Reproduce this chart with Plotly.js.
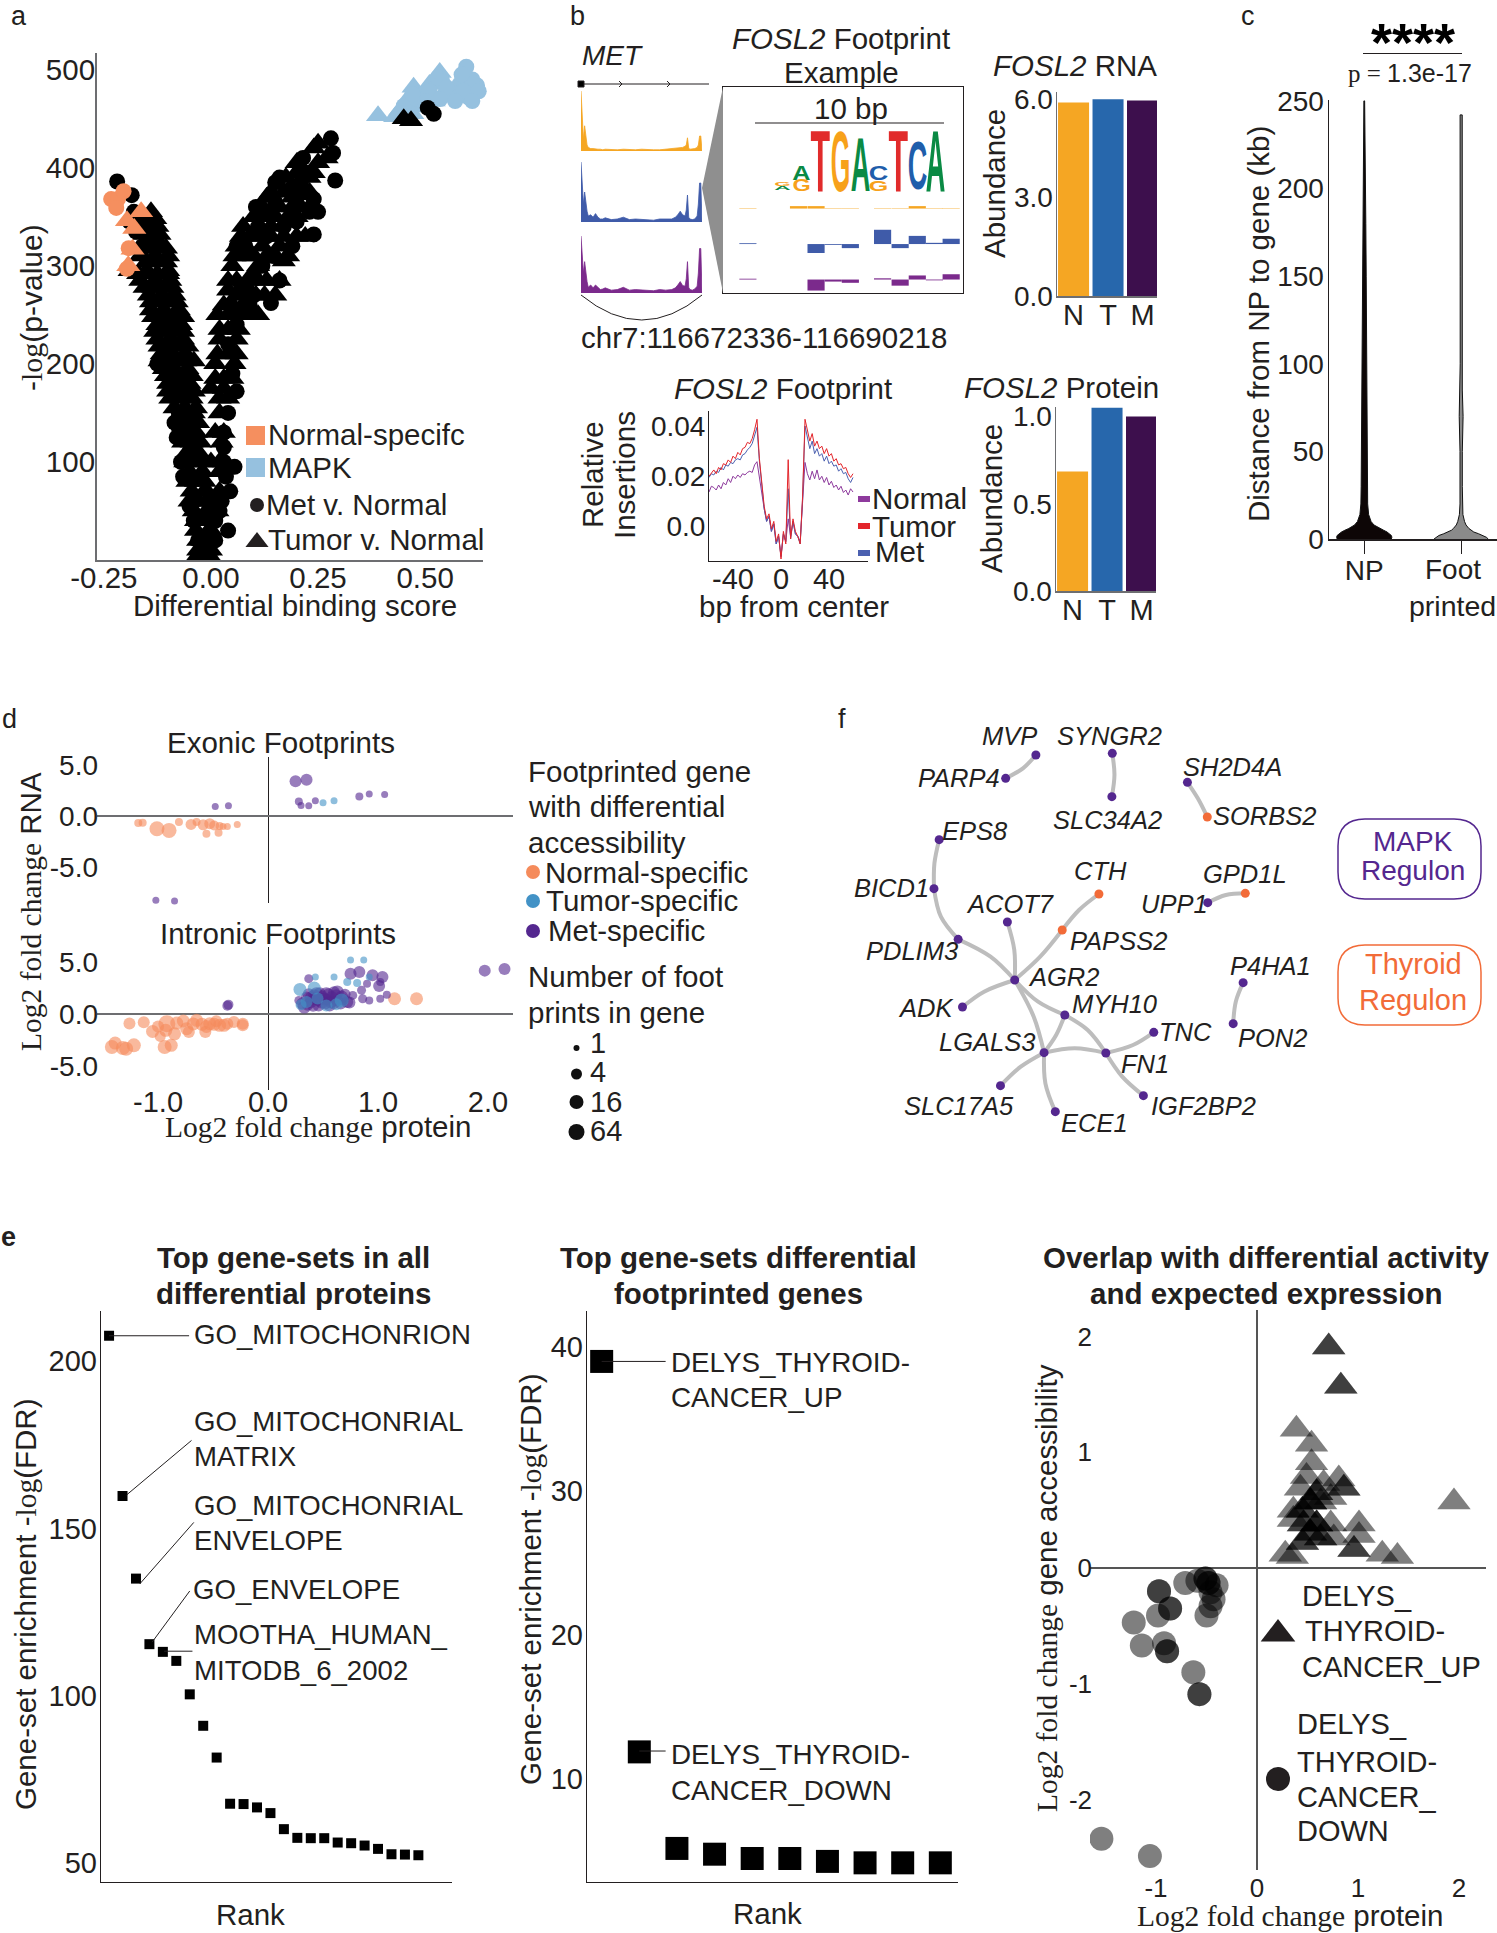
<!DOCTYPE html>
<html><head><meta charset="utf-8">
<script src="https://cdn.plot.ly/plotly-3.0.1.min.js"></script>
<style>html,body{margin:0;padding:0;background:#fff}</style></head>
<body><div id="chart" style="width:1497px;height:1933px"></div>
<script>
const W=1497,H=1933,INK='#231f20',SANS='Liberation Sans',SERIF='Liberation Serif';
// ---------- panel a
const tumorX=[-.03,-.01,-.035,-.005,-.04,-.01,-.045,-.015,-.05,-.02,-.055,-.03,-.055,-.035,-.07,-.04,-.095,-.07,-.045,-.1,-.075,-.05,-.11,-.085,-.055,-.115,-.09,-.06,-.125,-.095,-.065,-.125,-.1,-.07,-.14,-.11,-.075,-.145,-.115,-.085,-.165,-.13,-.095,-.19,-.15,-.1,-.165,-.13,-.1,-.15,-.125,-.145,-.125,-.14,
 -.03,-.02,-.005,-.03,-.02,-.005,-.035,-.025,-.005,-.05,-.03,-.01,-.055,-.035,-.015,-.06,-.04,-.02,-.065,-.045,-.025,-.07,-.05,-.03,-.085,-.06,-.035,-.1,-.08,-.06,-.04,-.105,-.085,-.065,-.045,-.12,-.1,-.08,-.06,-.04,-.12,-.1,-.08,-.055,-.13,-.11,-.085,-.065,-.135,-.115,-.09,-.065,-.14,-.12,-.1,-.08,-.155,-.135,-.11,-.09,-.17,-.145,-.125,-.1,-.15,-.125,-.105,-.16,-.14,-.12,-.105,-.155,-.135,-.12,-.165,-.15,-.13,
 0,0,.005,.02,.025,.02,.03,0,.01,.055,.02,.06,.015,.065,.04,.09,.05,.11,.17,.06,.12,.16,.075,.14,.13,.19,.175,.23,.2,.25,.24,.25,.27,
 .02,.04,.01,.03,.05,.015,.04,.06,.02,.04,.065,.03,.05,.075,.04,.06,.085,.11,.13,.16,.055,.08,.1,.13,.15,.18,.07,.09,.11,.14,.17,.2,.22,.1,.12,.15,.18,.2,.12,.16,.19,.21,.23,.14,.17,.21,.23,.2,.22,.24,.06,.08,.105,.125,.15,.04,.06,.085,.11,0,.02,.03,.01,.03,-.01,.02,0,.015];
const tumorY=[10,10,30,30,50,50,70,70,90,90,110,110,130,130,150,150,165,165,165,180,180,180,195,195,195,210,210,210,225,225,225,240,240,240,255,255,255,270,270,270,285,285,285,295,295,295,310,310,310,325,325,340,340,355,
 5,5,5,20,20,20,40,40,40,60,60,60,80,80,80,100,100,100,120,120,120,140,140,140,155,155,155,172,172,172,172,188,188,188,188,203,203,203,203,203,218,218,218,218,233,233,233,233,248,248,248,248,263,263,263,263,278,278,278,278,292,292,292,292,304,304,304,318,318,318,318,332,332,332,348,348,348,
 10,30,60,90,120,150,175,175,200,200,225,225,250,250,275,275,300,300,305,320,320,320,340,340,370,370,390,390,405,405,420,425,410,
 165,165,185,185,185,210,210,210,235,235,235,260,260,260,285,285,285,285,285,285,310,310,310,310,310,310,330,330,330,330,330,330,330,350,350,350,350,350,360,360,360,360,360,375,375,375,375,395,395,395,270,270,270,270,270,250,250,250,250,100,100,100,130,130,70,70,50,50];
const metX=[-.075,-.075,-.065,-.06,-.05,-.06,-.065,-.04,-.05,-.04,-.125,-.03,-.219,-.185,-.19,-.18,-.175,-.15,-.16,-.08,-.07,-.085,
 .035,.025,.01,.01,.03,.03,.04,.06,.05,.04,.06,.09,.07,.1,.14,.16,.12,.145,.19,.24,.2,.23,.25,.24,.2,.15,.13,.105,.11,.15,.16,.185,.215,.28,.285,.29,.23,.21,.06,.08,.045,.055,.03,.02,.04,.07,.1,.13,.17,.22];
const metY=[150,135,125,140,110,85,85,60,55,40,200,20,386,372,345,355,335,345,320,125,100,140,
 85,60,40,20,100,130,150,172,190,220,240,260,280,270,262,285,300,310,320,332,345,355,355,368,370,365,355,360,340,385,390,378,410,430,415,387,395,385,320,320,70,95,115,50,30,255,290,330,340,375];
const metFarX=[.506,.52,.58],metFarY=[461,455,490],tumorFarX=[.45,.467],tumorFarY=[450,448];
const normalCircX=[-.233,-.217,-.221,-.204,-.192,-.196],normalCircY=[368,368,359,376,318,297];
const normalTriX=[-.179,-.183,-.193,-.163,-.196],normalTriY=[338,317,300,355,346];
const mapkTriX=[.39,.473,.442,.534,.46,.5,.52,.55,.57,.49,.43,.48,.51,.53,.47],mapkTriY=[453,482,459,497,470,475,468,480,472,462,452,462,485,490,455];
const mapkCircX=[.596,.621,.6,.53,.45,.58,.56,.54,.51,.48,.61,.59,.57,.55,.625,.61,.5,.47,.585,.535],mapkCircY=[503,484,472,492,463,485,478,488,478,470,490,478,468,482,478,468,468,475,495,470];
// ---------- panel b
const abundLabels=['N','T','M'],rnaValues=[5.9,6.0,5.96],proteinValues=[.685,1.05,1.0];
const fpX=[-60,-58,-56,-54,-52,-50,-48,-46,-44,-42,-40,-38,-36,-34,-32,-30,-28,-26,-24,-22,-20,-18,-16,-14,-12,-10,-8,-6,-4,-2,0,2,4,6,8,10,12,14,16,18,20,22,24,26,28,30,32,34,36,38,40,42,44,46,48,50,52,54,56,58,60];
const fpTumor=[.02,.0215,.0225,.021,.0235,.0225,.025,.0245,.0265,.0255,.028,.027,.0295,.0285,.031,.0315,.0335,.033,.035,.0385,.0427,.027,.016,.008,.003,.005,-.001,.002,-.006,-.003,-.013,-.002,-.007,.0266,-.005,.003,-.002,-.004,-.007,.012,.0427,.038,.034,.037,.032,.034,.031,.032,.029,.031,.028,.029,.026,.027,.0245,.025,.023,.0235,.021,.0195,.021];
const fpMet=[.0195,.021,.0205,.022,.0215,.0235,.0225,.0245,.024,.0255,.025,.0265,.027,.0265,.0285,.029,.0305,.0315,.033,.036,.0395,.026,.015,.007,.002,.004,-.002,.001,-.007,-.004,-.012,-.003,-.006,.015,-.005,.002,-.003,-.004,-.007,.011,.04,.035,.031,.034,.029,.031,.028,.029,.026,.028,.025,.026,.024,.0245,.022,.023,.021,.0215,.019,.0175,.0195];
const fpNormal=[.0137,.016,.0155,.0145,.0165,.015,.0175,.0165,.019,.0175,.02,.019,.0205,.0195,.021,.0205,.0215,.022,.0215,.0245,.0258,.019,.013,.007,.002,.004,-.002,.001,-.007,-.004,-.012,-.003,-.006,.003,-.004,.002,-.003,-.004,-.006,.009,.0255,.021,.0185,.022,.019,.0225,.0185,.02,.0175,.0195,.0165,.018,.0155,.0165,.0145,.016,.0135,.0145,.0125,.015,.0137];
const trackX=[0,1,2,3,4,5,6,8,10,12,14,16,18,20,25,30,35,40,45,50,55,60,65,70,75,78,80,82,84,86,87,88,89,90,92,94,96,97,98,99,100];
const trackN=[1,.45,.2,.42,.2,.1,.06,.04,.04,.03,.03,.03,.02,.03,.02,.02,.03,.02,.02,.03,.02,.02,.02,.03,.03,.04,.04,.05,.06,.08,.1,.22,.05,.03,.03,.04,.06,.1,.25,.25,0];
const trackT=[1,.55,.3,.5,.28,.18,.1,.12,.08,.14,.08,.05,.05,.07,.04,.05,.08,.04,.05,.04,.04,.03,.05,.05,.05,.08,.12,.18,.12,.1,.2,.45,.08,.05,.04,.05,.1,.3,.65,.65,0];
const trackM=[1,.6,.35,.55,.3,.2,.1,.14,.09,.14,.1,.06,.07,.09,.05,.06,.1,.05,.06,.05,.05,.04,.06,.05,.06,.09,.14,.2,.13,.12,.25,.55,.1,.06,.05,.07,.12,.35,.78,.78,0];
const zoomBins=[461,585,628,670,712,791,834,876,918,959];
const zoomN=[1,6,6,1,1,1,1,6,1,1];
const zoomT=[2,0,-22,-2,-10,35,-10,20,3,13],zoomM=[2,0,-27,-5,-8,3,-15,10,-2,13];
const logoLetters=['T','G','A','C','G','T','C','A','A','G','G','A'];
const logoZx=[638,688,735,780,780,827,875,920,592,592,545,545];
const logoTop=[316,316,335,403,442,316,340,316,403,440,445,456];
const logoBottom=[468,468,468,440,468,468,462,468,440,468,455,466];
const logoWidth=[45,45,45,45,45,45,45,45,42,42,38,38];
const logoColor=['#E12B2B','#F7A11A','#0A8A44','#1F5EAB','#F7A11A','#E12B2B','#1F5EAB','#0A8A44','#0A8A44','#F7A11A','#F7A11A','#0A8A44'];
// ---------- panel c
const npY=[0,1,2,3,4,5,6,8,10,14,20,30,50,70,85,100,150,180,200,225,242,250];
const npW=[.28,.285,.28,.26,.235,.2,.16,.1,.07,.045,.035,.032,.03,.028,.026,.025,.02,.016,.012,.008,.006,.004];
const fpY=[0,1,2,3,4,5,6,8,10,14,20,30,50,70,85,100,150,180,200,225,242];
const fpW=[.28,.26,.23,.18,.13,.1,.08,.05,.035,.018,.012,.012,.012,.02,.012,.01,.01,.012,.011,.011,.011];
// ---------- panel d
const exoNX=[-1.18,-1.14,-1.01,-.9,-.81,-.7,-.65,-.59,-.56,-.53,-.49,-.45,-.44,-.41,-.37,-.28];
const exoNY=[-.68,-.65,-1.23,-1.39,-.58,-.81,-.58,-.84,-1.72,-.74,-.91,-1.62,-.97,-1,-1,-.81];
const exoNS=[8,8,15,15,8,11,8,11,8,11,10,8,8,7,7,7];
const exoMX=[.25,.35,.28,.3,.37,.43,.83,.92,1.06,-.48,-.36,-1.02,-.85];
const exoMY=[3.4,3.53,1.42,1.04,1,1.49,1.91,2.14,2.1,.94,1,-8.19,-8.25];
const exoMS=[12,12,8,7,7,7,8,7,7,7,7,7,7];
const exoTX=[.5,.6],exoTY=[1.29,1.49],exoTS=[7,7];
const intNX=[-1.26,-1.13,-1.05,-.98,-.92,-.93,-1.42,-1.39,-1.32,-1.29,-1.22,-.94,-.88,-.83,-.77,-.74,-.72,-.65,-.6,-.57,-.53,-.49,-.44,-.4,-.37,-.31,-.23,-.23,1.15,1.35,.4,-.68,-.56,-.47,-1,-.85];
const intNY=[-.9,-.8,-1.67,-2.15,-.93,-1.57,-3.17,-2.79,-3.27,-3.33,-3.01,-3.17,-3.01,-.87,-.67,-1.41,-1.73,-.61,-.99,-1.73,-.93,-.99,-1.09,-1.09,-.93,-.77,-.93,-1.09,1.47,1.47,1.31,-.95,-1.2,-.7,-1.2,-1.9];
const intNS=[12,12,13,11,17,13,14,13,14,14,14,14,13,13,13,13,12,13,13,12,13,13,13,13,12,12,12,12,13,13,10,13,13,12,12,13];
const intTX=[.75,.87,.43,.6,.72,.81,.29,.42,.35,.53,.67,.92,.3,.45,.62];
const intTY=[5.19,5.19,3.56,3.56,3.08,2.99,2.36,2.49,1.15,.83,1.31,3.56,.9,1.5,.95];
const intTS=[7,7,7,7,8,8,13,13,12,12,14,7,11,12,12];
const intMX=[-.37,-.36,1.97,2.15,.37,.75,.83,.95,1.04,1.02,1.01,.9,.85,1.08,1.02,.92,.86,.28,.33,.39,.44,.49,.53,.58,.63,.67,.72,.46,.56,.35,.77,.6,.51,.44,.53,.58,.39,.49,.63,.31,.37,.42,.47,.52,.57,.62,.68,.74,.36,.41,.46,.55,.6,.66,.7];
const intMY=[.8,.9,4.17,4.33,3.4,3.88,4.04,3.72,3.56,3.08,2.69,2.92,2.28,1.86,1.47,1.31,1.47,1.31,.67,1.15,1.96,1.15,1.96,1.63,2.12,1.63,1.15,.83,.83,1.63,1.79,.99,1.47,1.5,1.4,1.2,1.6,1.7,1.3,1,1.9,1.8,2,1,1.1,1.8,1.4,1.1,.9,.8,1.3,1.9,2.1,1,1.9];
const intMS=[10,10,12,12,9,12,12,12,12,8,12,8,9,8,8,8,9,9,13,12,13,13,13,12,13,13,12,12,12,11,9,11,12,12,12,12,12,12,12,12,12,12,12,12,12,12,12,12,12,12,12,12,12,12,11];
// ---------- panel f (network layout units)
const nodeNames=['MVP','PARP4','SYNGR2','SLC34A2','SH2D4A','SORBS2','EPS8','BICD1','PDLIM3','ACOT7','CTH','PAPSS2','UPP1','GPD1L','AGR2','ADK','MYH10','LGALS3','FN1','TNC','P4HA1','PON2','SLC17A5','ECE1','IGF2BP2'];
const nodeX=[500,430,677,676,851,897,276,264,320,434,646,561,898,985,451,330,567,519,662,773,980,957,418,545,749];
const nodeY=[165,235,160,290,247,351,419,566,718,666,582,690,608,580,840,921,945,1058,1059,997,848,971,1157,1235,1187];
const nodeThyroid=['SORBS2','CTH','PAPSS2','GPD1L'];
const labelX=[440,322,670,665,955,1030,360,165,212,440,650,692,820,985,565,245,682,387,753,847,1043,1048,322,635,888];
const labelY=[107,233,107,360,200,349,393,563,752,613,513,722,613,522,830,923,913,1027,1092,995,797,1015,1217,1268,1217];
const edgeFrom=['MVP','SYNGR2','SH2D4A','EPS8','BICD1','PDLIM3','ACOT7','CTH','PAPSS2','UPP1','AGR2','AGR2','AGR2','MYH10','MYH10','LGALS3','FN1','FN1','LGALS3','LGALS3','P4HA1'];
const edgeTo=['PARP4','SLC34A2','SORBS2','BICD1','PDLIM3','AGR2','AGR2','PAPSS2','AGR2','GPD1L','ADK','MYH10','LGALS3','LGALS3','FN1','FN1','TNC','IGF2BP2','SLC17A5','ECE1','PON2'];
const edgeMidX=[470,682,875,265,280,395,450,600,510,940,380,505,495,547,620,590,725,700,465,522,963];
const edgeMidY=[205,225,295,490,650,770,750,630,770,585,875,905,950,1005,990,1045,1035,1130,1100,1150,905];
// ---------- panel e
const e1Rank=[1,2,3,4,5,6,7,8,9,10,11,12,13,14,15,16,17,18,19,20,21,22,23,24];
const e1Value=[207.6,159.7,135,115.4,113.1,110.4,100.4,91,81.5,67.7,67.6,66.6,64.9,60.1,57.5,57.4,57.4,56.1,55.9,55.2,54.2,52.6,52.5,52.3];
const e2Rank=[1,2,3,4,5,6,7,8,9,10];
const e2Value=[39,11.9,5.2,4.8,4.5,4.5,4.3,4.2,4.2,4.2];
const upX=[.71,.71,.83,.83,.39,.54,.54,.81,.49,.43,.66,.86,.86,.59,.59,.53,.53,.53,.36,.45,.45,.63,.73,.36,.46,.46,.59,.59,.59,.73,.53,.53,1.01,1.01,.96,.96,.28,.35,.45,.45,.63,.63,.76,1.24,1.39,1.95];
const upY=[1.91,1.91,1.57,1.57,1.2,1.07,.91,.77,.79,.69,.73,.69,.69,.65,.65,.57,.57,.57,.5,.5,.5,.57,.61,.42,.38,.38,.38,.38,.38,.38,.3,.3,.38,.28,.16,.16,.12,.1,.22,.22,.26,.26,.26,.12,.1,.57];
const downX=[-.51,-.51,-.48,-.48,-.4,-.71,-.59,-.97,-.97,-.86,-.86,-.98,-1.22,-1.14,-.92,-.89,-.89,-.43,-.46,-.5,-.63,-.57,-.57,-1.54,-1.06,-.46];
const downY=[-.09,-.09,-.13,-.13,-.15,-.13,-.11,-.2,-.2,-.35,-.35,-.41,-.47,-.67,-.65,-.72,-.72,-.27,-.33,-.41,-.9,-1.09,-1.09,-2.34,-2.49,-.21];
const abundColors=['#F5A623','#2767AC','#3D0F4D'];
const cOrange='#F58B5B',cBlue='#4292C6',cPurple='#54278F',cMapk='#96C1DF',cNormal='#F58F5F';

const layout={width:W,height:H,margin:{l:0,r:0,t:0,b:0},paper_bgcolor:'#fff',plot_bgcolor:'rgba(0,0,0,0)',showlegend:false,barmode:'overlay',font:{family:SANS,color:INK,size:28},annotations:[],shapes:[]};
const traces=[];
function setAxes(n,x0,x1,y0,y1,xo,yo){
  const sx=n===1?'':n,xName='xaxis'+sx,yName='yaxis'+sx;
  layout[xName]=Object.assign({domain:[x0/W,x1/W],anchor:'y'+sx,showgrid:false,zeroline:false,showline:false,ticks:'',automargin:false,layer:'below traces',tickfont:{size:28,family:SANS,color:INK}},xo);
  layout[yName]=Object.assign({domain:[1-y1/H,1-y0/H],anchor:'x'+sx,showgrid:false,zeroline:false,showline:false,ticks:'',automargin:false,layer:'below traces',tickfont:{size:28,family:SANS,color:INK}},yo);
  return {xaxis:'x'+sx,yaxis:'y'+sx};
}
function T(px,py,text,size,o){o=o||{};
  layout.annotations.push(Object.assign({xref:'paper',yref:'paper',x:px/W,y:1-py/H,text:text,showarrow:false,xanchor:'center',yanchor:'middle',borderpad:0,borderwidth:0,font:{family:o.family||SANS,size:size,color:o.color||INK}},o.extra||{}));
}
const L=(px,py,text,size,o)=>T(px,py,text,size,Object.assign({},o,{extra:Object.assign({xanchor:'left'},(o||{}).extra)}));
const V=(px,py,text,size)=>T(px,py,text,size,{extra:{textangle:-90}});
const serif=s=>'<span style="font-family:Liberation Serif">'+s+'</span>';

// overlay in page pixels for legend keys and drawn furniture
const ov=setAxes(12,0,W,0,H,{range:[0,W],visible:false},{range:[H,0],visible:false});
function sh(path,o){layout.shapes.push(Object.assign({type:'path',xref:'x12',yref:'y12',path:path,line:{color:INK,width:1},layer:'above'},o));}
function seg(x0,y0,x1,y1,c,w){sh(`M${x0},${y0}L${x1},${y1}`,{line:{color:c||INK,width:w||1}});}
function key(x,y,sym,c,size){traces.push(Object.assign({type:'scatter',mode:'markers',x:[x],y:[y],marker:{symbol:sym,color:c,size:size,line:{width:0}},hoverinfo:'skip'},ov));}

// ---------- a
const A=setAxes(1,97,483,53,560,
 {range:[-.266,.635],tickmode:'array',tickvals:[-.25,0,.25,.5],ticktext:['-0.25','0.00','0.25','0.50'],showline:true,linecolor:'#6d6e71',linewidth:2,ticklabelstandoff:-9,tickfont:{size:29.5,family:SANS,color:INK}},
 {range:[0,517],tickmode:'array',tickvals:[100,200,300,400,500],showline:true,linecolor:'#6d6e71',linewidth:2,ticklabelstandoff:-6,tickfont:{size:29.5,family:SANS,color:INK}});
function pts(ax,x,y,sym,c,size,op,clip){traces.push(Object.assign({type:'scatter',mode:'markers',x:x,y:y,cliponaxis:clip!==false,marker:{symbol:sym,color:c,size:size,opacity:op==null?1:op,line:{width:0}},hoverinfo:'skip'},ax));}
pts(A,tumorX,tumorY,'triangle-up','#000',21);
pts(A,metX,metY,'circle','#000',16);
pts(A,normalTriX,normalTriY,'triangle-up',cNormal,21);
pts(A,normalCircX,normalCircY,'circle',cNormal,16);
pts(A,mapkTriX,mapkTriY,'triangle-up',cMapk,21,1,false);
pts(A,mapkCircX,mapkCircY,'circle',cMapk,16,1,false);
pts(A,tumorFarX,tumorFarY,'triangle-up','#000',21);
pts(A,metFarX.slice(0,2),metFarY.slice(0,2),'circle','#000',16);
T(19,16,'a',27);
V(31,308,'-'+serif('log')+'(p-value)',30);
T(295,605,'Differential binding score',29.5);
key(255.5,435.5,'square',cNormal,19);key(255.5,467.5,'square',cMapk,19);key(257,505,'circle',INK,14);key(257,542,'triangle-up',INK,20);
L(268,435,'Normal-specifc',29.5);L(268,467,'MAPK',29.5);L(266,505,'Met v. Normal',29.5);L(268,539,'Tumor v. Normal',29.5);

// ---------- b tracks
[[13,91,151,trackN,abundColors[0]],[14,162,222,trackT,'#3F5BA9'],[15,236,293,trackM,'#7B2A8C']].forEach(r=>{
  const a=setAxes(r[0],581,702,r[1],r[2],{range:[0,100],visible:false},{range:[0,1],visible:false});
  traces.push(Object.assign({type:'scatter',mode:'lines',x:trackX,y:r[3],fill:'tozeroy',fillcolor:r[4],line:{color:r[4],width:.8},hoverinfo:'skip'},a));
});
seg(579,84,709,84,INK,1);sh('M578,81H584V87H578Z',{fillcolor:'#000'});
sh('M619,81L622,84L619,87',{});sh('M667,81L670,84L667,87',{});
sh('M581,295Q642,345 702,295',{line:{color:INK,width:1}});
sh('M702,188L723,87L723,293Z',{fillcolor:'#8f8f8f',line:{width:0,color:'#8f8f8f'}});
T(612,55,'<i>MET</i>',28);
T(841,38,'<i>FOSL2</i> Footprint',29.5);T(841,73,'Example',29.5);
T(764,338,'chr7:116672336-116690218',29.5);
// zoom box
const B=setAxes(16,723,963,87,293,{range:[400,988],showticklabels:false,showline:true,mirror:true,linecolor:INK,linewidth:1.3},{range:[718,213],showticklabels:false,showline:true,mirror:true,linecolor:INK,linewidth:1.3});
[[511,zoomN,abundColors[0]],[598,zoomT,'#3F5BA9'],[685,zoomM,'#7B2A8C']].forEach(r=>{
  traces.push(Object.assign({type:'bar',x:zoomBins,y:r[1].map(v=>-v),base:r[0],width:42,marker:{color:r[2],line:{width:0}},hoverinfo:'skip'},B));
});
T(851,109,'10 bp',29.5);seg(755,123,944,123,INK,1.2);
const logoMeta=[];
logoLetters.forEach((c,i)=>{
  const xc=560+logoZx[i]/2.45,top=logoTop[i]/2.45,bot=logoBottom[i]/2.45;
  logoMeta.push({idx:layout.annotations.length,w:logoWidth[i]/2.45,h:bot-top});
  T(xc,(top+bot)/2,'<b>'+c+'</b>',40,{color:logoColor[i]});
});
// RNA / protein bars
function barPanel(n,x0,x1,y0,y1,xr,yr,vals,tv,tl){
  const a=setAxes(n,x0,x1,y0,y1,{range:xr,tickmode:'array',tickvals:[0,1,2],ticktext:abundLabels,showline:true,linecolor:'#6d6e71',linewidth:1.5,ticklabelstandoff:-7,tickfont:{size:29,family:SANS,color:INK}},{range:yr,tickmode:'array',tickvals:tv,ticktext:tl,showline:true,linecolor:'#6d6e71',linewidth:1.5,ticklabelstandoff:-3,tickfont:{size:28,family:SANS,color:INK}});
  traces.push(Object.assign({type:'bar',x:[0,1,2],y:vals,width:.9,marker:{color:abundColors,line:{width:0}},hoverinfo:'skip'},a));
}
barPanel(2,1057,1157,92,296,[-.48,2.42],[0,6.22],rnaValues,[0,3,6],['0.0','3.0','6.0']);
barPanel(4,1056,1156,407,591,[-.48,2.42],[0,1.055],proteinValues,[0,.5,1],['0.0','0.5','1.0']);
T(1075,66,'<i>FOSL2</i> RNA',29.5);V(994,184,'Abundance',29.5);
T(1061,387,'<i>FOSL2</i> Protein',29.5);V(992,498,'Abundance',29.5);
// footprint
const F=setAxes(3,709,868,411,561,
 {range:[-60,72.5],tickmode:'array',tickvals:[-40,0,40],ticktext:['-40','0','40'],showline:true,linecolor:INK,linewidth:1,ticklabelstandoff:-8,tickfont:{size:29,family:SANS,color:INK}},
 {range:[-.0138,.046],tickmode:'array',tickvals:[0,.02,.04],ticktext:['0.0','0.02','0.04'],showline:true,linecolor:INK,linewidth:1,ticklabelstandoff:-3,tickfont:{size:28,family:SANS,color:INK}});
[[fpNormal,'#8E3A9D'],[fpMet,'#4B60B0'],[fpTumor,'#E3252B']].forEach(r=>traces.push(Object.assign({type:'scatter',mode:'lines',x:fpX,y:r[0],line:{color:r[1],width:1},hoverinfo:'skip'},F)));
T(783,389,'<i>FOSL2</i> Footprint',29.5);T(794,606,'bp from center',29.5);
V(593,475,'Relative',29.5);V(625,475,'Insertions',29.5);
seg(858,499,870,499,'#8E3A9D',6);seg(858,526,870,526,'#E3252B',6);seg(858,553,870,553,'#4B60B0',6);
L(872,499,'Normal',29.5);L(872,526,'Tumor',29.5);L(875,551,'Met',29.5);
T(577,16,'b',27);

// ---------- c
const C=setAxes(5,1329,1497,100,539,
 {range:[-.364,1.37],tickmode:'array',tickvals:[0,1],ticktext:['NP',' '],showline:true,linecolor:INK,linewidth:1.5,ticks:'outside',ticklen:13,tickcolor:INK,tickwidth:1.2,ticklabelstandoff:-7,tickfont:{size:28,family:SANS,color:INK}},
 {range:[0,250.5],tickmode:'array',tickvals:[0,50,100,150,200,250],showline:true,linecolor:INK,linewidth:1.5,ticklabelstandoff:-2,tickfont:{size:28,family:SANS,color:INK}});
[[0,npY,npW,'#0d0606'],[1,fpY,fpW,'#8a8a8a']].forEach(r=>{
  const xs=r[1].map((_,i)=>r[0]-r[2][i]).concat(r[1].map((_,i)=>r[0]+r[2][i]).reverse());
  const ys=r[1].concat(r[1].slice().reverse());
  traces.push(Object.assign({type:'scatter',mode:'lines',x:xs,y:ys,fill:'toself',fillcolor:r[3],line:{color:'#111',width:1},hoverinfo:'skip'},C));
});
T(1248,16,'c',27);T(1413,42,'<b>****</b>',54,{color:'#000'});seg(1363,53.5,1462,53.5,INK,1.2);
T(1410,73,serif('p = ')+'1.3e-17',25);V(1258,324,'Distance from NP to gene (kb)',29.5);
T(1453,569,'Foot',28);T(1452,606,'printed',28.5);

// ---------- d
const xD=(o)=>Object.assign({range:[-1.555,2.227],tickmode:'array',tickvals:[-1,0,1,2],ticktext:['-1.0','0.0','1.0','2.0'],zeroline:true,zerolinecolor:INK,zerolinewidth:1,ticklabelstandoff:-8,tickfont:{size:29,family:SANS,color:INK}},o);
const yD=(r)=>({range:r,tickmode:'array',tickvals:[-5,0,5],ticktext:['-5.0','0.0','5.0'],zeroline:true,zerolinecolor:'#6d6e71',zerolinewidth:2,ticklabelstandoff:-2,tickfont:{size:28,family:SANS,color:INK}});
const D1=setAxes(6,97,513,757,903,xD({showticklabels:false}),yD([-8.45,5.75]));
const D2=setAxes(7,97,513,947,1090,xD({}),yD([-7.3,6.44]));
function bub(ax,x,y,s,c){traces.push(Object.assign({type:'scatter',mode:'markers',cliponaxis:false,x:x,y:y,marker:{color:c,size:s,opacity:.6,line:{width:0}},hoverinfo:'skip'},ax));}
bub(D1,exoNX,exoNY,exoNS,cOrange);bub(D1,exoTX,exoTY,exoTS,cBlue);bub(D1,exoMX,exoMY,exoMS,cPurple);
bub(D2,intNX,intNY,intNS,cOrange);bub(D2,intMX,intMY,intMS,cPurple);bub(D2,intTX,intTY,intTS,cBlue);
T(9,719,'d',27);T(281,743,'Exonic Footprints',29.5);T(278,933,'Intronic Footprints',29.5);
V(30,912,serif('Log2 fold change')+' RNA',29.5);T(318,1126,serif('Log2 fold change')+' protein',29.5);
L(528,771,'Footprinted gene',29.5);L(528,806,'with differential',29.5);L(528,842,'accessibility',29.5);
key(533,872,'circle',cOrange,14);key(533,901,'circle',cBlue,14);key(533,931,'circle',cPurple,14);
L(545,872,'Normal-specific',29.5);L(546,901,'Tumor-specific',29.5);L(548,931,'Met-specific',29.5);
L(528,976,'Number of foot',29.5);L(528,1012,'prints in gene',29.5);
key(576.5,1048,'circle','#111',6);key(576.5,1074,'circle','#111',11);key(576.5,1102,'circle','#111',14);key(576.5,1132,'circle','#111',16);
L(590,1043,'1',29);L(590,1072,'4',29);L(590,1102,'16',29);L(590,1131,'64',29);

// ---------- f
const N=setAxes(8,820,1497,700,1160,{range:[0,1568],visible:false},{range:[1380,0],visible:false});
edgeFrom.forEach((a,i)=>{const p=nodeNames.indexOf(a),q=nodeNames.indexOf(edgeTo[i]);
  traces.push(Object.assign({type:'scatter',mode:'lines',x:[nodeX[p],edgeMidX[i],nodeX[q]],y:[nodeY[p],edgeMidY[i],nodeY[q]],line:{color:'#bdbdbd',width:4,shape:'spline',smoothing:1},hoverinfo:'skip'},N));});
traces.push(Object.assign({type:'scatter',mode:'markers',x:nodeX,y:nodeY,marker:{size:9,line:{width:0},color:nodeNames.map(n=>nodeThyroid.includes(n)?'#F26B38':cPurple)},hoverinfo:'skip'},N));
nodeNames.forEach((n,i)=>T(820+labelX[i]/2.316,700+labelY[i]/3,'<i>'+n+'</i>',25.5));
T(842,719,'f',27);
function round(x0,y0,x1,y1,r){return `M${x0+r},${y0}H${x1-r}Q${x1},${y0} ${x1},${y0+r}V${y1-r}Q${x1},${y1} ${x1-r},${y1}H${x0+r}Q${x0},${y1} ${x0},${y1-r}V${y0+r}Q${x0},${y0} ${x0+r},${y0}Z`;}
sh(round(1338,819,1481,899,27),{line:{color:cPurple,width:1.5}});
sh(round(1338,945,1481,1025,27),{line:{color:'#F26B38',width:1.5}});
T(1413,841,'MAPK',28,{color:cPurple});T(1413,871,'Regulon',28,{color:cPurple});
T(1413,964,'Thyroid',29,{color:'#F26B38'});T(1413,1000,'Regulon',29,{color:'#F26B38'});

// ---------- e
const axE={showline:true,linecolor:INK,linewidth:1.2,ticklabelstandoff:-3,tickfont:{size:29,family:SANS,color:INK}};
const E1=setAxes(9,101,452,1311,1882,Object.assign({range:[.4,26.5],showticklabels:false},axE),Object.assign({range:[44.3,215],tickmode:'array',tickvals:[50,100,150,200]},axE));
pts(E1,e1Rank,e1Value,'square','#000',10);
T(8,1237,'<b>e</b>',27);T(293,1257,'<b>Top gene-sets in all</b>',29.5);T(293,1293,'<b>differential proteins</b>',29.5);
V(25,1605,'Gene-set enrichment -'+serif('log')+'(FDR)',29.5);T(250,1914,'Rank',29.5);
[[1,207.6,6.95,207.6],[2.3,160,7.13,176.3],[3.28,133.4,7.3,151.8],[4.2,116,7,131.3],[5.1,113.3,7.2,113.3]].forEach(r=>{
  layout.shapes.push({type:'line',xref:'x9',yref:'y9',x0:r[0],y0:r[1],x1:r[2],y1:r[3],line:{color:INK,width:1},layer:'above'});
});
[[194,1334,'GO_MITOCHONRION'],[194,1421,'GO_MITOCHONRIAL'],[194,1456,'MATRIX'],[194,1505,'GO_MITOCHONRIAL'],[194,1540,'ENVELOPE'],[193,1589,'GO_ENVELOPE'],[194,1634,'MOOTHA_HUMAN_'],[194,1670,'MITODB_6_2002']].forEach(r=>L(r[0],r[1],r[2],27.6));

const E2=setAxes(10,587,958,1311,1882,Object.assign({range:[.61,10.47],showticklabels:false},axE),Object.assign({range:[2.87,42.5],tickmode:'array',tickvals:[10,20,30,40]},axE));
pts(E2,e2Rank,e2Value,'square','#000',23);
T(738,1257,'<b>Top gene-sets differential</b>',29.5);T(738,1293,'<b>footprinted genes</b>',29.5);
V(530,1580,'Gene-set enrichment -'+serif('log')+'(FDR)',29.5);T(767,1913,'Rank',29.5);
[[1,39,2.7,39],[2,11.96,2.7,11.96]].forEach(r=>{layout.shapes.push({type:'line',xref:'x10',yref:'y10',x0:r[0],y0:r[1],x1:r[2],y1:r[3],line:{color:INK,width:1},layer:'above'});});
[[1362,'DELYS_THYROID-'],[1397,'CANCER_UP'],[1754,'DELYS_THYROID-'],[1790,'CANCER_DOWN']].forEach(r=>L(671,r[0],r[1],27.8));

const E3=setAxes(11,1090,1486,1310,1870,
 {range:[-1.653,2.267],tickmode:'array',tickvals:[-1,0,1,2],ticktext:['-1','0','1','2'],zeroline:true,zerolinecolor:'#555',zerolinewidth:1.5,tickfont:{size:26,family:SANS,color:INK}},
 {range:[-2.61,2.23],tickmode:'array',tickvals:[-2,-1,0,1,2],ticktext:['-2','-1','0','1','2'],zeroline:true,zerolinecolor:'#555',zerolinewidth:1.5,ticklabelstandoff:-3,tickfont:{size:26,family:SANS,color:INK}});
pts(E3,upX,upY,'triangle-up','#000',29,.5);
pts(E3,downX,downY,'circle','#000',24,.5);
T(1266,1257,'<b>Overlap with differential activity</b>',29.5);T(1266,1293,'<b>and expected expression</b>',29.5);
V(1046,1588,serif('Log2 fold change')+' gene accessibility',29.5);T(1290,1915,serif('Log2 fold change')+' protein',29.5);
key(1278,1634,'triangle-up',INK,30);key(1278,1779,'circle',INK,24);
L(1302,1596,'DELYS_',29);L(1305,1631,'THYROID-',29);L(1302,1667,'CANCER_UP',29);
L(1297,1724,'DELYS_',29);L(1297,1762,'THYROID-',29);L(1297,1797,'CANCER_',29);L(1297,1831,'DOWN',29);

Plotly.newPlot('chart',traces,layout,{staticPlot:true,displayModeBar:false}).then(gd=>{
  // stretch the sequence-logo letters to the heights of the motif
  logoMeta.forEach(m=>{
    const t=gd.querySelector('g.annotation[data-index="'+m.idx+'"] text');
    if(!t) return;
    const b=t.getBBox(),xc=b.x+b.width/2,yc=b.y+b.height/2,base=parseFloat(t.getAttribute('y'))||0;
    const sx=m.w/(b.width*.94),sy=m.h/28.8;
    t.setAttribute('transform',`translate(${xc},${yc}) scale(${sx},${sy}) translate(${-xc},${-(base-14.4)})`);
  });
});
</script></body></html>
